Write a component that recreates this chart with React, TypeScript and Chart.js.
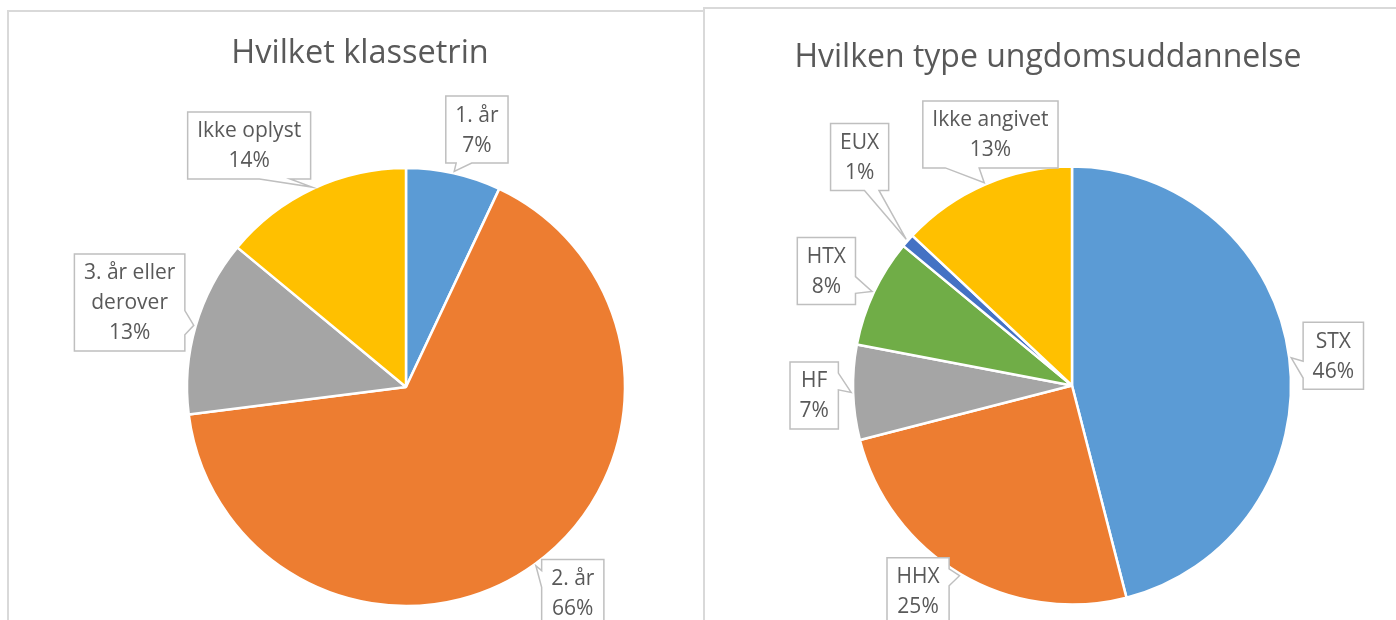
import React, { useEffect, useRef } from "react";
import { Chart, registerables } from "chart.js";

Chart.register(...registerables);

// ---------- Data ----------
const leftTitle = "Hvilket klassetrin";
const leftCategories = ["1. år", "2. år", "3. år eller derover", "Ikke oplyst"];
const leftLabelLines = [["1. år"], ["2. år"], ["3. år eller", "derover"], ["Ikke oplyst"]];
const leftValues = [7, 66, 13, 14];
const leftColors = ["#5B9BD5", "#ED7D31", "#A5A5A5", "#FFC000"];

const rightTitle = "Hvilken type ungdomsuddannelse";
const rightCategories = ["STX", "HHX", "HF", "HTX", "EUX", "Ikke angivet"];
const rightLabelLines = [["STX"], ["HHX"], ["HF"], ["HTX"], ["EUX"], ["Ikke angivet"]];
const rightValues = [46, 25, 7, 8, 1, 13];
const rightColors = ["#5B9BD5", "#ED7D31", "#A5A5A5", "#70AD47", "#4472C4", "#FFC000"];

// ---------- Label layout (polar placement of callouts) ----------
const leftLabelDist = [267, 265, 289, 288];
const leftLabelShift = [2.8, -3, 0.8, -7.8];
const rightLabelDist = [263, 257, 258, 271, 312, 264];
const rightLabelShift = [0.7, 6.2, -0.4, -0.2, 5.7, 5.4];

const TEXT_COLOR = "#595959";
const FONT = "'Open Sans', 'Noto Sans', sans-serif";

function drawCallout(ctx: CanvasRenderingContext2D, l: number, t: number, w: number, h: number, tx: number, ty: number) {
  const r = l + w;
  const b = t + h;
  const hc = l + w / 2;
  const vc = t + h / 2;
  const dxPos = tx - hc;
  const dyPos = ty - vc;
  const dq = (dxPos * h) / w;
  const dz = Math.abs(dyPos) - Math.abs(dq);
  const x1 = l + (w * (dxPos > 0 ? 7 : 2)) / 12;
  const x2 = l + (w * (dxPos > 0 ? 10 : 5)) / 12;
  const y1 = t + (h * (dyPos > 0 ? 7 : 2)) / 12;
  const y2 = t + (h * (dyPos > 0 ? 10 : 5)) / 12;
  const inside = tx >= l && tx <= r && ty >= t && ty <= b;
  ctx.beginPath();
  ctx.moveTo(l, t);
  if (!inside && dz > 0 && dyPos <= 0) {
    ctx.lineTo(x1, t);
    ctx.lineTo(tx, ty);
    ctx.lineTo(x2, t);
  }
  ctx.lineTo(r, t);
  if (!inside && dz <= 0 && dxPos > 0) {
    ctx.lineTo(r, y1);
    ctx.lineTo(tx, ty);
    ctx.lineTo(r, y2);
  }
  ctx.lineTo(r, b);
  if (!inside && dz > 0 && dyPos > 0) {
    ctx.lineTo(x2, b);
    ctx.lineTo(tx, ty);
    ctx.lineTo(x1, b);
  }
  ctx.lineTo(l, b);
  if (!inside && dz <= 0 && dxPos <= 0) {
    ctx.lineTo(l, y2);
    ctx.lineTo(tx, ty);
    ctx.lineTo(l, y1);
  }
  ctx.closePath();
  ctx.fillStyle = "#FFFFFF";
  ctx.fill();
  ctx.strokeStyle = "#BFBFBF";
  ctx.lineWidth = 1.5;
  ctx.stroke();
}

type CalloutCfg = {
  title: string;
  titleX: number;
  titleY: number;
  titleSize: number;
  lines: string[][];
  dist: number[];
  shift: number[];
};

function makeCalloutPlugin(cfg: CalloutCfg) {
  return {
    id: "callouts",
    afterDatasetsDraw(chart: any) {
      const ctx: CanvasRenderingContext2D = chart.ctx;
      const meta = chart.getDatasetMeta(0);
      const values: number[] = chart.data.datasets[0].data;
      const total = values.reduce((a, v) => a + v, 0);
      ctx.save();
      ctx.font = `${cfg.titleSize}px ${FONT}`;
      ctx.fillStyle = TEXT_COLOR;
      ctx.textAlign = "center";
      ctx.textBaseline = "alphabetic";
      ctx.fillText(cfg.title, cfg.titleX, cfg.titleY);

      meta.data.forEach((arc: any, i: number) => {
        const p = arc.getProps(["x", "y", "startAngle", "endAngle", "outerRadius"], true);
        const mid = (p.startAngle + p.endAngle) / 2;
        const tipX = p.x + Math.cos(mid) * (p.outerRadius + 2);
        const tipY = p.y + Math.sin(mid) * (p.outerRadius + 2);
        const a = mid + (cfg.shift[i] * Math.PI) / 180;
        const bx = p.x + Math.cos(a) * cfg.dist[i];
        const by = p.y + Math.sin(a) * cfg.dist[i];
        const lines = [...cfg.lines[i], Math.round((values[i] / total) * 100) + "%"];
        ctx.font = `21px ${FONT}`;
        const w = Math.max(...lines.map((s) => ctx.measureText(s).width)) + 19;
        const h = lines.length * 30 + 7;
        const l = bx - w / 2;
        const t = by - h / 2;
        drawCallout(ctx, l, t, w, h, tipX, tipY);
        ctx.fillStyle = TEXT_COLOR;
        ctx.textAlign = "center";
        ctx.textBaseline = "middle";
        lines.forEach((s, j) => ctx.fillText(s, bx, t + 3.5 + 15 + j * 30 + 1));
      });
      ctx.restore();
    },
  };
}

type PieProps = {
  left: number;
  top: number;
  width: number;
  height: number;
  cx: number;
  cy: number;
  radius: number;
  categories: string[];
  values: number[];
  colors: string[];
  callouts: CalloutCfg;
};

function PieChart(props: PieProps) {
  const ref = useRef<HTMLCanvasElement | null>(null);
  useEffect(() => {
    if (!ref.current) return;
    const span = props.radius + 12;
    const chart = new Chart(ref.current, {
      type: "pie",
      data: {
        labels: props.categories,
        datasets: [
          {
            data: props.values,
            backgroundColor: props.colors,
            borderColor: "#FFFFFF",
            borderWidth: 2.5,
            hoverOffset: 0,
            offset: 0,
          } as any,
        ],
      },
      options: {
        responsive: false,
        animation: false,
        radius: props.radius,
        layout: {
          padding: {
            left: props.cx - span,
            right: props.width - props.cx - span,
            top: props.cy - span,
            bottom: props.height - props.cy - span,
          },
        },
        plugins: {
          legend: { display: false },
          tooltip: { enabled: false },
        },
        events: [],
      } as any,
      plugins: [makeCalloutPlugin(props.callouts)],
    });
    return () => chart.destroy();
  }, []);
  return (
    <canvas
      ref={ref}
      width={props.width}
      height={props.height}
      style={{ position: "absolute", left: props.left, top: props.top, width: props.width, height: props.height }}
    />
  );
}

export default function App() {
  return (
    <div
      style={{
        position: "fixed",
        left: 0,
        top: 0,
        width: 1396,
        height: 620,
        overflow: "hidden",
        background: "#FFFFFF",
      }}
    >
      <div
        style={{
          position: "absolute",
          left: 7,
          top: 10,
          width: 698,
          height: 700,
          border: "2px solid #D9D9D9",
          boxSizing: "border-box",
        }}
      />
      <div
        style={{
          position: "absolute",
          left: 703,
          top: 7,
          width: 800,
          height: 700,
          border: "2px solid #D9D9D9",
          boxSizing: "border-box",
        }}
      />
      <PieChart
        left={9}
        top={12}
        width={694}
        height={608}
        cx={397}
        cy={375}
        radius={219}
        categories={leftCategories}
        values={leftValues}
        colors={leftColors}
        callouts={{
          title: leftTitle,
          titleX: 351,
          titleY: 51,
          titleSize: 32.5,
          lines: leftLabelLines,
          dist: leftLabelDist,
          shift: leftLabelShift,
        }}
      />
      <PieChart
        left={705}
        top={9}
        width={691}
        height={611}
        cx={367}
        cy={376.5}
        radius={219}
        categories={rightCategories}
        values={rightValues}
        colors={rightColors}
        callouts={{
          title: rightTitle,
          titleX: 343,
          titleY: 58,
          titleSize: 32,
          lines: rightLabelLines,
          dist: rightLabelDist,
          shift: rightLabelShift,
        }}
      />
    </div>
  );
}
